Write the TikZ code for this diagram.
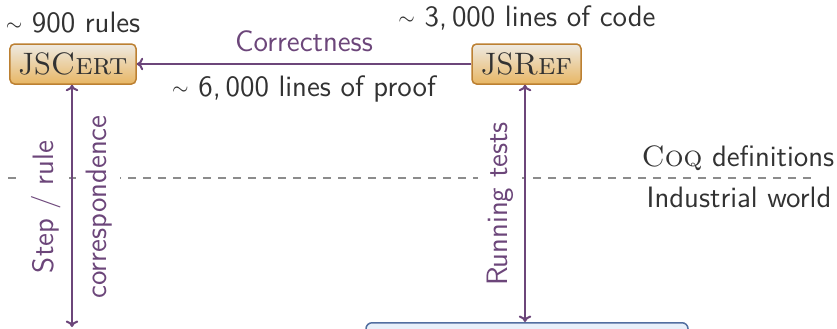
\documentclass[tikz,border=0pt]{standalone}
\usepackage{xcolor}
\usetikzlibrary{arrows.meta}
\definecolor{purp}{RGB}{108,70,122}
\definecolor{ink}{RGB}{50,50,50}
\definecolor{boxtop}{RGB}{238,234,226}
\definecolor{boxbot}{RGB}{232,182,100}
\definecolor{boxedge}{RGB}{188,128,50}
\definecolor{engfill}{RGB}{232,240,250}
\definecolor{engedge}{RGB}{82,110,160}
\newcommand{\about}{\raisebox{0.9pt}{\footnotesize$\sim$} }
\begin{document}
\begin{tikzpicture}[x=0.4pt,y=-0.4pt,
  every node/.style={font=\sffamily\fontsize{11.8}{14}\selectfont, text=ink},
  specbox/.style={draw=boxedge, line width=0.6pt, rounded corners=1.8pt,
    top color=boxtop, bottom color=boxbot, minimum height=16pt,
    inner sep=0pt, font=\rmfamily\fontsize{12.4}{14}\selectfont},
  engbox/.style={draw=engedge, line width=0.6pt, rounded corners=2.4pt,
    fill=engfill, minimum width=128.8pt, minimum height=20pt, inner sep=0pt},
  link/.style={draw=purp, line width=0.8pt, -{To[width=5pt,length=2.6pt]}},
  biglink/.style={draw=purp, line width=0.8pt,
    {To[width=5pt,length=2.6pt]}-{To[width=5pt,length=2.6pt]}},
  linklabel/.style={text=purp},
  sidelabel/.style={text=purp, rotate=90, fill=white},
  divider/.style={draw=black!45, dashed, line width=0.6pt}
]
\useasboundingbox (0,0) rectangle (837,328);
\clip (0,0) rectangle (837,328);

% boundary between the formal and the industrial side
\draw[divider] (8,178) -- (812,178);
\node (coq) at (738,158) {{\rmfamily\textsc{Coq}} definitions};
\node (ind) at (739,197) {Industrial world};

% specification and reference interpreter
\node[specbox, minimum width=50.4pt] (cert) at (73,64) {JS\textsc{Cert}};
\node[specbox, minimum width=43.6pt] (ref) at (526.5,64) {JS\textsc{Ref}};
\node (rules) at (73,23) {\about 900 rules};
\node (code) at (527,18) {\about 3,\,000 lines of code};

% implementations below, cut off by the frame
\node[engbox, anchor=north] (eng) at (527,322) {};
\coordinate (down) at (72,327);

% labels of the vertical links
\node[sidelabel] (steprule) at (46,207) {Step / rule};
\node[sidelabel] (corr) at (99,207) {correspondence};
\node[sidelabel] (tests) at (500,204) {Running tests};

% links
\draw[link] (ref) -- node[linklabel, above=1pt] (ok) {Correctness}
  node[below=1pt] (proof) {\about 6,\,000 lines of proof} (cert);
\draw[biglink] (cert.south -| down) -- (down);
\draw[biglink] (ref.south -| 525,0) -- (eng.north -| 525,0);
\end{tikzpicture}
\end{document}
